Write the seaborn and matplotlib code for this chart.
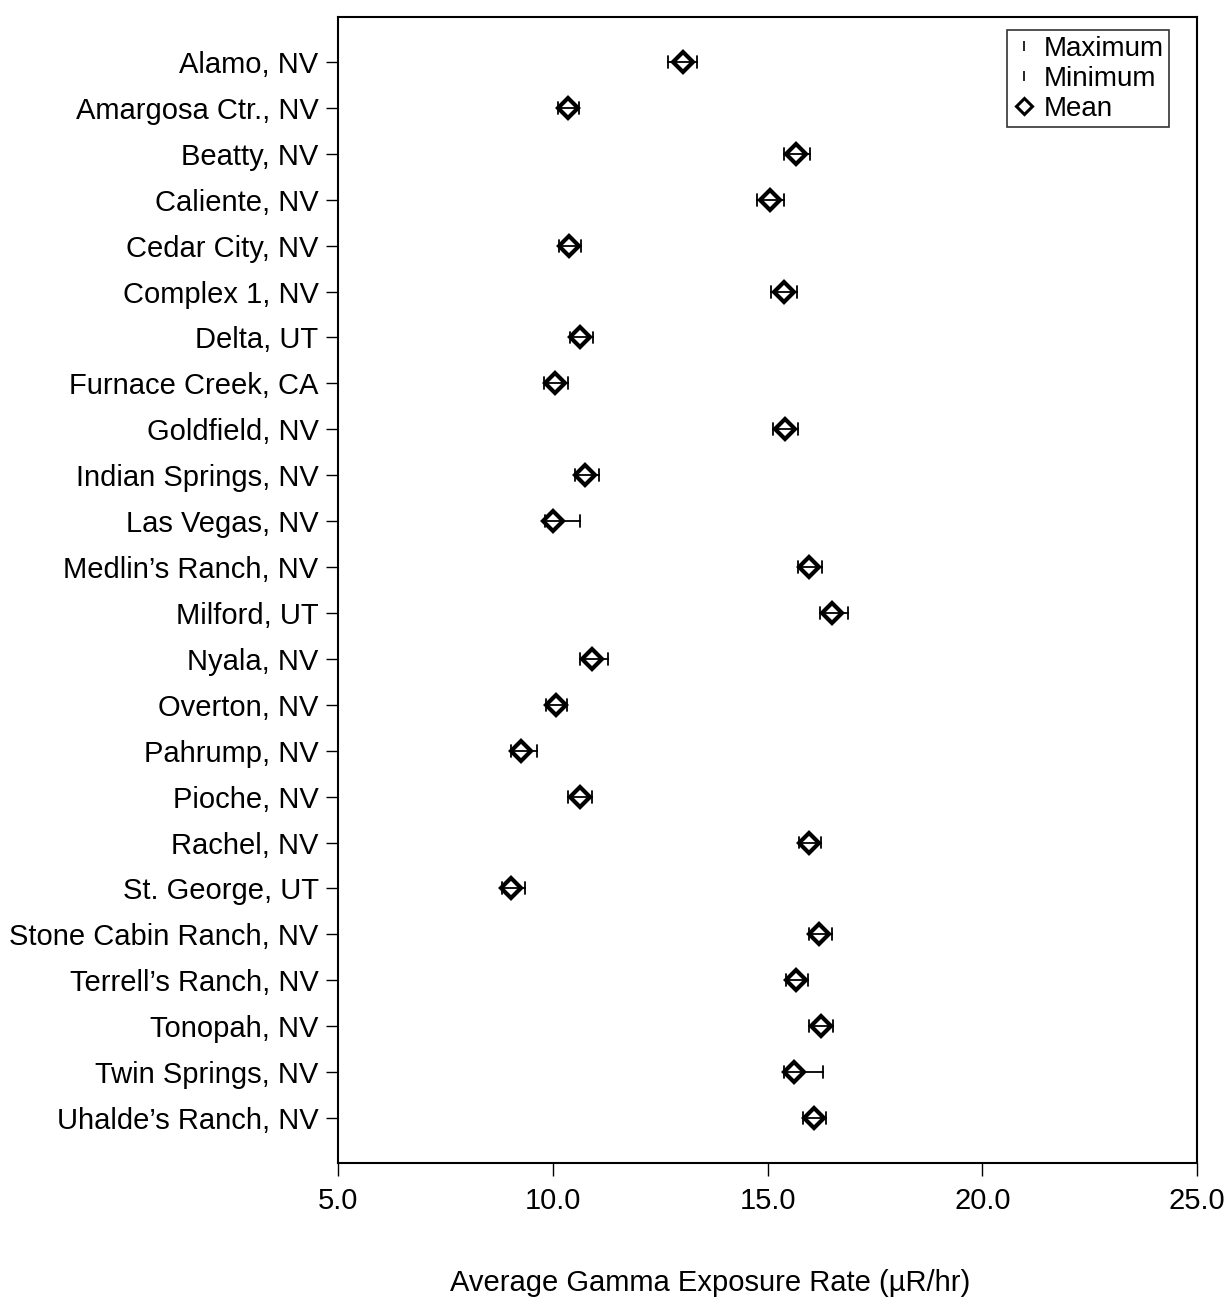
import numpy as np
import pandas as pd
import seaborn as sns
import matplotlib
matplotlib.use("Agg")
import matplotlib.pyplot as plt
from matplotlib.lines import Line2D

stations = ["Alamo, NV", "Amargosa Ctr., NV", "Beatty, NV", "Caliente, NV",
            "Cedar City, NV", "Complex 1, NV", "Delta, UT", "Furnace Creek, CA",
            "Goldfield, NV", "Indian Springs, NV", "Las Vegas, NV",
            "Medlin\u2019s Ranch, NV", "Milford, UT", "Nyala, NV", "Overton, NV",
            "Pahrump, NV", "Pioche, NV", "Rachel, NV", "St. George, UT",
            "Stone Cabin Ranch, NV", "Terrell\u2019s Ranch, NV", "Tonopah, NV",
            "Twin Springs, NV", "Uhalde\u2019s Ranch, NV"]
mean_vals = [13.03, 10.36, 15.66, 15.06, 10.38, 15.38, 10.63, 10.05, 15.41, 10.75,
             10.01, 15.97, 16.50, 10.91, 10.08, 9.26, 10.63, 15.97, 9.03, 16.20,
             15.66, 16.25, 15.62, 16.08]
min_vals = [12.68, 10.12, 15.38, 14.76, 10.15, 15.08, 10.40, 9.80, 15.13, 10.52,
            9.82, 15.71, 16.22, 10.63, 9.84, 9.03, 10.36, 15.73, 8.82, 15.97,
            15.43, 15.97, 15.38, 15.83]
max_vals = [13.36, 10.61, 15.99, 15.38, 10.66, 15.69, 10.94, 10.36, 15.71, 11.08,
            10.63, 16.27, 16.87, 11.29, 10.33, 9.63, 10.91, 16.25, 9.35, 16.50,
            15.94, 16.52, 16.29, 16.36]
x_ticks = [5.0, 10.0, 15.0, 20.0, 25.0]
x_label = "Average Gamma Exposure Rate (\u00b5R/hr)"

# long table: min, mean, max per station; median -> mean, range -> error bar
rows = []
for s, lo, m, hi in zip(stations, min_vals, mean_vals, max_vals):
    for v in (lo, m, hi):
        rows.append({"station": s, "rate": v})
df = pd.DataFrame(rows)

sns.set_theme(style="ticks")
plt.rcParams["font.family"] = ["Liberation Sans", "DejaVu Sans"]
plt.rcParams["text.color"] = "black"
plt.rcParams["axes.labelcolor"] = "black"

fig = plt.figure(figsize=(12.24, 13.04), dpi=100)
ax = fig.add_axes([338 / 1224, 1 - 1163 / 1304, (1197 - 338) / 1224, (1163 - 17) / 1304])

sns.pointplot(data=df, x="rate", y="station", order=stations,
              estimator=np.median, errorbar=lambda v: (v.min(), v.max()),
              linestyle="none", capsize=0.26, color="black",
              err_kws={"linewidth": 1.3},
              marker="D", markersize=10, markerfacecolor="white",
              markeredgecolor="black", markeredgewidth=3.0, ax=ax)

ax.set_xlim(5.0, 25.0)
ax.set_ylim(len(stations) - 1 + 0.98, -0.98)
ax.set_xticks(x_ticks)
ax.set_xticklabels([f"{t:.1f}" for t in x_ticks])
ax.set_ylabel("")
ax.set_xlabel(x_label, fontsize=21)
ax.xaxis.set_label_coords((710 - 338) / 859, (1163 - 1283) / 1146)
ax.xaxis.label.set_va("center")
ax.tick_params(axis="y", length=9, width=1.0, pad=5, labelsize=21, colors="black")
ax.tick_params(axis="x", length=9, width=1.0, pad=8, labelsize=21, colors="black")
for sp in ax.spines.values():
    sp.set_visible(True)
    sp.set_color("black")
    sp.set_linewidth(1.5)

handles = [
    Line2D([], [], linestyle="none", marker="|", markersize=7, color="black", markeredgewidth=1.2),
    Line2D([], [], linestyle="none", marker="|", markersize=7, color="black", markeredgewidth=1.2),
    Line2D([], [], linestyle="none", marker="D", markersize=8, markerfacecolor="white",
           markeredgecolor="black", markeredgewidth=2.2),
]
leg = ax.legend(handles, ["Maximum", "Minimum", "Mean"], loc="upper right",
                bbox_to_anchor=((1169 - 338) / 859, (1163 - 30) / 1146),
                fontsize=20, frameon=True, fancybox=False, edgecolor="black",
                handlelength=0.8, handletextpad=0.3, borderpad=0.2,
                labelspacing=0.15, borderaxespad=0.0)
leg.get_frame().set_linewidth(1.2)
for t in leg.get_texts():
    t.set_color("black")

fig.savefig("out.png", dpi=100)
